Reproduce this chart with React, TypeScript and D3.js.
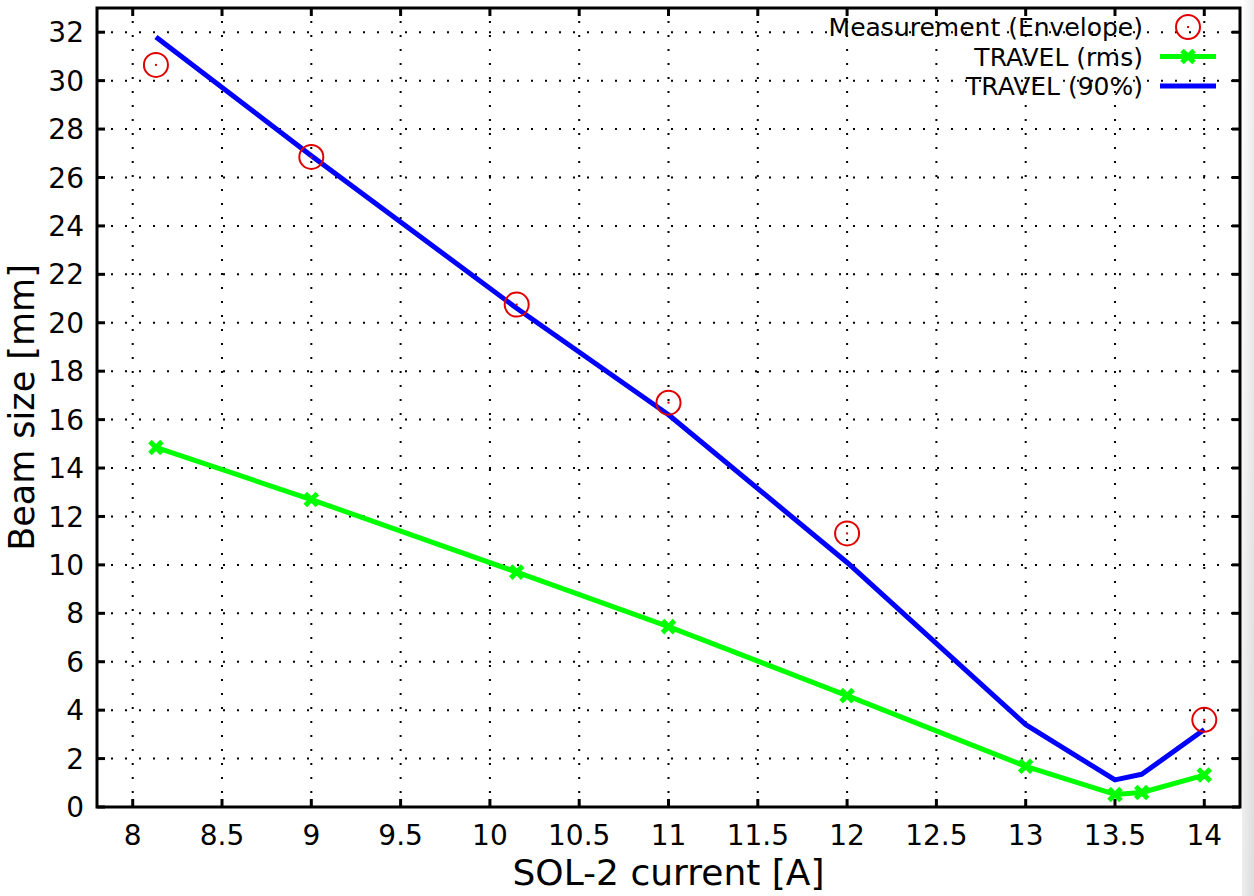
import * as d3 from "d3";

// SOL-2 scan: measured envelope vs. TRAVEL simulation
const measCurrent = [8.13, 9.0, 10.15, 11.0, 12.0, 14.0];
const measEnvelope = [30.65, 26.85, 20.75, 16.7, 11.3, 3.6];

const simCurrent = [8.13, 9.0, 10.15, 11.0, 12.0, 13.0, 13.5, 13.65, 14.0];
const travelRms = [14.85, 12.7, 9.7, 7.45, 4.6, 1.68, 0.52, 0.6, 1.32];
const travel90 = [31.8, 26.9, 20.6, 16.2, 10.1, 3.4, 1.12, 1.35, 3.2];

const xTicks = [8, 8.5, 9, 9.5, 10, 10.5, 11, 11.5, 12, 12.5, 13, 13.5, 14];
const yTicks = [0, 2, 4, 6, 8, 10, 12, 14, 16, 18, 20, 22, 24, 26, 28, 30, 32];

const legendLabels = ["Measurement (Envelope)", "TRAVEL (rms)", "TRAVEL (90%)"];

const W = 1254;
const H = 896;
const margin = { top: 8, right: 14, bottom: 89, left: 97 };
const font = "'DejaVu Sans', Verdana, sans-serif";

const crossPath = "M-6,-6L6,6M-6,6L6,-6";

export default function App() {
  const x = d3
    .scaleLinear()
    .domain([7.8, 14.2])
    .range([margin.left, W - margin.right]);
  const y = d3
    .scaleLinear()
    .domain([0, 33])
    .range([H - margin.bottom, margin.top]);

  const [x0, x1] = x.range();
  const [y0, y1] = y.range();

  const line = d3
    .line<number>()
    .x((_, i) => x(simCurrent[i]))
    .y((d) => y(d));

  const legendX = 1143;
  const legendRows = [27, 56.5, 86];

  return (
    <svg
      width={W}
      height={H}
      style={{ position: "absolute", left: 0, top: 0, background: "#fff" }}
      fontFamily={font}
    >
      <defs>
        <linearGradient id="edge" x1="0" y1="0" x2="1" y2="1">
          <stop offset="0" stopColor="#ffffff" />
          <stop offset="1" stopColor="#dcdcdc" />
        </linearGradient>
      </defs>
      <rect x={x1 + 2} y={0} width={W - x1 - 2} height={H} fill="url(#edge)" />

      {/* dotted grid */}
      <g stroke="#000" strokeWidth={2} strokeDasharray="2,12">
        {yTicks.map((t) => (
          <line key={"gy" + t} x1={x0} x2={x1} y1={y(t)} y2={y(t)} />
        ))}
        {xTicks.map((t) => (
          <line key={"gx" + t} x1={x(t)} x2={x(t)} y1={y0} y2={y1} />
        ))}
      </g>

      {/* ticks on all four sides, pointing inward */}
      <g stroke="#000" strokeWidth={3}>
        {yTicks.map((t) => (
          <g key={"ty" + t}>
            <line x1={x0} x2={x0 + 8} y1={y(t)} y2={y(t)} />
            <line x1={x1} x2={x1 - 8} y1={y(t)} y2={y(t)} />
          </g>
        ))}
        {xTicks.map((t) => (
          <g key={"tx" + t}>
            <line x1={x(t)} x2={x(t)} y1={y0} y2={y0 - 8} />
            <line x1={x(t)} x2={x(t)} y1={y1} y2={y1 + 8} />
          </g>
        ))}
      </g>

      {/* tick labels */}
      <g fontSize={28} fill="#000">
        {yTicks.map((t) => (
          <text key={"ly" + t} x={x0 - 13} y={y(t)} dy="0.36em" textAnchor="end">
            {t}
          </text>
        ))}
        {xTicks.map((t) => (
          <text key={"lx" + t} x={x(t)} y={y0 + 38} textAnchor="middle">
            {t}
          </text>
        ))}
      </g>

      {/* series */}
      <path
        d={line(travel90) ?? ""}
        fill="none"
        stroke="#0000ff"
        strokeWidth={5}
        strokeLinejoin="round"
      />
      <path
        d={line(travelRms) ?? ""}
        fill="none"
        stroke="#00ff00"
        strokeWidth={5}
        strokeLinejoin="round"
      />
      {travelRms.map((v, i) => (
        <path
          key={"m" + i}
          d={crossPath}
          transform={`translate(${x(simCurrent[i])},${y(v)})`}
          stroke="#00ff00"
          strokeWidth={5}
          fill="none"
        />
      ))}
      {measEnvelope.map((v, i) => (
        <g key={"c" + i} transform={`translate(${x(measCurrent[i])},${y(v)})`}>
          <circle r={12} fill="none" stroke="#e00000" strokeWidth={2} />
          <rect x={-1} y={-1} width={2} height={2} fill="#e00000" />
        </g>
      ))}

      {/* frame */}
      <rect
        x={x0}
        y={y1}
        width={x1 - x0}
        height={y0 - y1}
        fill="none"
        stroke="#000"
        strokeWidth={3}
      />

      {/* legend */}
      <g fontSize={25} fill="#000" textAnchor="end">
        {legendLabels.map((l, i) => (
          <text key={l} x={legendX} y={legendRows[i]} dy="0.36em">
            {l}
          </text>
        ))}
      </g>
      <g transform={`translate(1188,${legendRows[0]})`}>
        <circle r={12} fill="none" stroke="#e00000" strokeWidth={2} />
        <rect x={-1} y={-1} width={2} height={2} fill="#e00000" />
      </g>
      <line x1={1160} x2={1216} y1={legendRows[1]} y2={legendRows[1]} stroke="#00ff00" strokeWidth={5} />
      <path d={crossPath} transform={`translate(1188,${legendRows[1]})`} stroke="#00ff00" strokeWidth={5} />
      <line x1={1160} x2={1216} y1={legendRows[2]} y2={legendRows[2]} stroke="#0000ff" strokeWidth={5} />

      {/* axis titles */}
      <text x={(x0 + x1) / 2} y={885} fontSize={36} textAnchor="middle">
        SOL-2 current [A]
      </text>
      <text
        transform={`translate(34,${(y0 + y1) / 2}) rotate(-90)`}
        fontSize={35}
        textAnchor="middle"
      >
        Beam size [mm]
      </text>
    </svg>
  );
}
